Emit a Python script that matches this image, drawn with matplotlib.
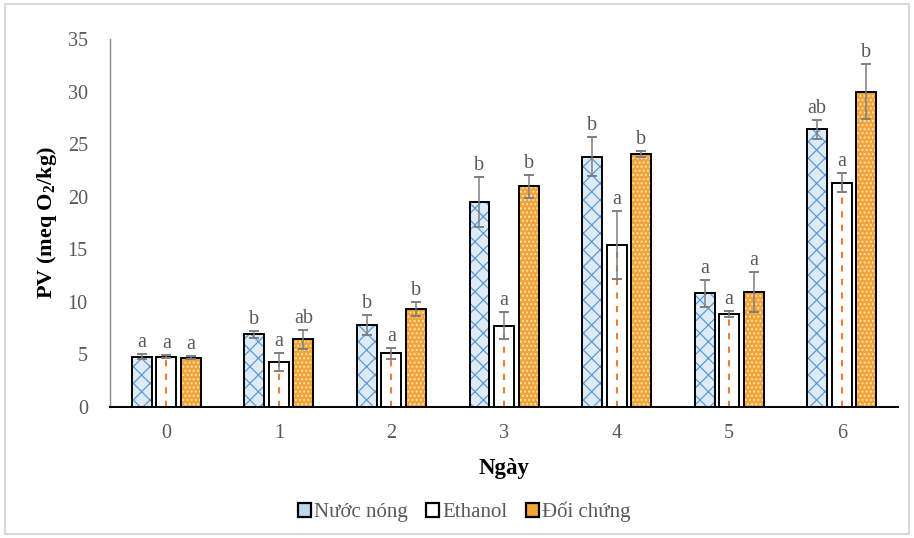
import numpy as np
import matplotlib
matplotlib.use("Agg")
import matplotlib.pyplot as plt
from matplotlib.patches import Rectangle, Patch

plt.rcParams['font.family'] = ['Liberation Serif', 'DejaVu Serif']
plt.rcParams['mathtext.fontset'] = 'custom'
plt.rcParams['mathtext.rm'] = 'Liberation Serif:bold'
plt.rcParams['mathtext.default'] = 'rm'
plt.rcParams['hatch.linewidth'] = 0.9

days = ['0', '1', '2', '3', '4', '5', '6']
series = ['Nước nóng', 'Ethanol', 'Đối chứng']

nuoc_nong = [4.8, 6.9, 7.8, 19.5, 23.8, 10.8, 26.4]
ethanol = [4.8, 4.3, 5.1, 7.75, 15.4, 8.85, 21.35]
doi_chung = [4.7, 6.45, 9.3, 21.0, 24.05, 10.95, 30.0]

err_nuoc_nong = [0.2, 0.3, 0.95, 2.4, 1.85, 1.3, 0.9]
err_ethanol = [0.15, 0.85, 0.55, 1.25, 3.25, 0.25, 0.9]
err_doi_chung = [0.15, 0.9, 0.65, 1.1, 0.3, 1.9, 2.6]

let_nuoc_nong = ['a', 'b', 'b', 'b', 'b', 'a', 'ab']
let_ethanol = ['a', 'a', 'a', 'a', 'a', 'a', 'a']
let_doi_chung = ['a', 'ab', 'b', 'b', 'b', 'a', 'b']

fig = plt.figure(figsize=(9.14, 5.38), dpi=100)
ax = fig.add_axes([0.1204, 0.2435, 0.8621, 0.684])

x = np.arange(len(days))
w = 0.177
off = 0.218
grey = '#595959'

styles = [
    dict(face='#DEEBF7', hatch='xx', hcol='#5B9BD5'),
    dict(face='white', hatch=None, hcol='white'),
    dict(face='#F2A33A', hatch='....', hcol='#FCE4B8'),
]
vals = [nuoc_nong, ethanol, doi_chung]
errs = [err_nuoc_nong, err_ethanol, err_doi_chung]
lets = [let_nuoc_nong, let_ethanol, let_doi_chung]

for k in range(3):
    xs = x + (k - 1) * off
    st = styles[k]
    ax.bar(xs, vals[k], w, color=st['face'], edgecolor=st['hcol'],
           hatch=st['hatch'], linewidth=0, zorder=2)
    if k == 1:
        # dashed orange line down the middle of the ethanol bars
        for xi, v in zip(xs, vals[k]):
            ax.plot([xi, xi], [0, v], color='#ED7D31', lw=1.5,
                    dashes=(3, 3.5), zorder=2.5)
    ax.bar(xs, vals[k], w, fill=False, edgecolor='black', linewidth=1.4,
           zorder=3)
    ax.errorbar(xs, vals[k], yerr=errs[k], fmt='none', ecolor='#7F7F7F',
                elinewidth=1.1, capsize=3.6, capthick=1.4, zorder=4)
    for xi, v, e, t in zip(xs, vals[k], errs[k], lets[k]):
        ax.annotate(t, (xi, v + e), xytext=(0, 1.5), textcoords='offset points',
                    ha='center', va='bottom', fontsize=14.5, color=grey)

ax.set_xlim(-0.5, 6.5)
ax.set_ylim(0, 35)
ax.set_yticks(range(0, 36, 5))
ax.set_xticks(x)
ax.set_xticklabels(days)
ax.tick_params(axis='both', length=0, labelsize=14.5, labelcolor=grey)
ax.tick_params(axis='x', pad=12)
ax.tick_params(axis='y', pad=16)

for s in ['top', 'right']:
    ax.spines[s].set_visible(False)
ax.spines['left'].set_color('#868686')
ax.spines['left'].set_linewidth(1.0)
ax.spines['bottom'].set_color('black')
ax.spines['bottom'].set_linewidth(1.4)

ax.set_ylabel('PV (meq O$_2$/kg)', fontsize=16, fontweight='bold')
ax.yaxis.label.set_va('center')
ax.yaxis.set_label_coords(-0.08, 0.5)
ax.set_xlabel('Ngày', fontsize=16.5, fontweight='bold')
ax.xaxis.label.set_va('center')
ax.xaxis.set_label_coords(0.5, -0.168)

handles = [
    Patch(facecolor='#BDD7EE', edgecolor='black', linewidth=1.6),
    Patch(facecolor='white', edgecolor='black', linewidth=1.6),
    Patch(facecolor='#F2A33A', edgecolor='black', linewidth=1.6),
]
leg = fig.legend(handles, series, loc='center', bbox_to_anchor=(0.508, 0.048),
                 ncol=3, frameon=False, fontsize=15, handlelength=0.62,
                 handleheight=0.62, handletextpad=0.15, columnspacing=0.9)
for t in leg.get_texts():
    t.set_color(grey)

fig.add_artist(Rectangle((0.005, 0.008), 0.99, 0.984, transform=fig.transFigure,
                         fill=False, edgecolor='#D9D9D9', linewidth=1.5))

fig.savefig('out.png', dpi=100)
